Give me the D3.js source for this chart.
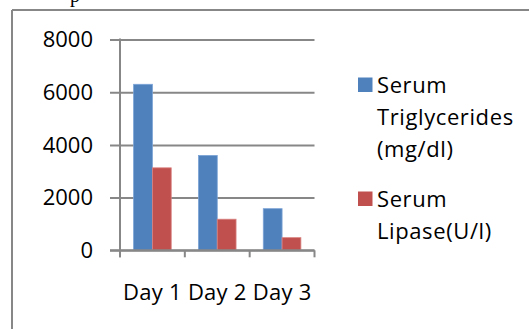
<!DOCTYPE html>
<html><head><meta charset="utf-8">
<script src="https://cdn.jsdelivr.net/npm/d3@7"></script>
<style>
html,body{margin:0;padding:0;background:#fff;}
svg{display:block;}
text{font-family:"Open Sans", sans-serif;fill:#000;}
</style></head>
<body>
<svg id="c" width="529" height="329"></svg>
<script>
const categories = ["Day 1", "Day 2", "Day 3"];
const seriesNames = ["Serum Triglycerides (mg/dl)", "Serum Lipase(U/l)"];
const triglycerides = [6300, 3600, 1580];
const lipase = [3130, 1180, 480];
const yTicks = [0, 2000, 4000, 6000, 8000];
const legendLines = [["Serum", "Triglycerides", "(mg/dl)"], ["Serum", "Lipase(U/l)"]];
const colors = ["#4F81BD", "#C0504D"];

const svg = d3.select("#c");
const gray = "#878787";
const fs = "22px";

// outer frame
svg.append("line").attr("x1", 12).attr("x2", 529).attr("y1", 10).attr("y2", 10).attr("stroke", gray).attr("stroke-width", 2);
svg.append("line").attr("x1", 12).attr("x2", 12).attr("y1", 10).attr("y2", 329).attr("stroke", gray).attr("stroke-width", 2);
// fragment of text above the frame
svg.append("text").attr("x", 70).attr("y", 2).style("font-family", "'Liberation Serif', serif").style("font-size", "20px").text("p");

const x0 = 120, x1 = 314.5, yTop = 39.5, yBot = 250.3;
const x = d3.scaleBand().domain(categories).range([x0, x1]).paddingInner(0.42).paddingOuter(0.21);
const xs = d3.scaleBand().domain(d3.range(2)).range([0, x.bandwidth()]);
const y = d3.scaleLinear().domain([0, 8000]).range([yBot, yTop]);

// gridlines + y axis
const ya = svg.append("g").attr("transform", `translate(${x0},0)`)
  .call(d3.axisLeft(y).tickValues(yTicks).tickSize(10).tickPadding(17).tickFormat(d3.format("d")));
ya.select(".domain").remove();
ya.selectAll(".tick line").attr("stroke", gray).attr("stroke-width", 2).attr("x1", -10).attr("x2", x1 - x0);
ya.selectAll(".tick text").style("font-size", fs).style("font-family", "'Open Sans', sans-serif").attr("dy", "0.33em");

svg.append("line").attr("x1", x0).attr("x2", x0).attr("y1", yTop - 1).attr("y2", yBot + 7).attr("stroke", gray).attr("stroke-width", 2);

// bars
const data = categories.map((c, i) => ({c, v: [triglycerides[i], lipase[i]]}));
const g = svg.append("g");
data.forEach(d => {
  d.v.forEach((v, j) => {
    g.append("rect").attr("x", x(d.c) + xs(j)).attr("width", xs.bandwidth())
      .attr("y", y(v)).attr("height", yBot - y(v)).attr("fill", colors[j])
      .attr("stroke", j === 0 ? "#7aa3d6" : "#d98280").attr("stroke-width", 0.8);
  });
});

// x axis
const xa = svg.append("g").attr("transform", `translate(0,${yBot})`)
  .call(d3.axisBottom(x).tickSize(0).tickPadding(34));
xa.select(".domain").remove();
xa.selectAll(".tick text").style("font-size", fs).style("font-family", "'Open Sans', sans-serif").style("letter-spacing", "0.25px");
svg.append("line").attr("x1", x0 - 10).attr("x2", x1).attr("y1", yBot).attr("y2", yBot).attr("stroke", gray).attr("stroke-width", 2);
const bounds = [x0, ...categories.map(c => x(c) + x.bandwidth() + x.step() * x.paddingInner() / 2)];
bounds[3] = x1;
svg.append("g").selectAll("line").data(bounds).join("line")
  .attr("x1", d => d).attr("x2", d => d).attr("y1", yBot).attr("y2", yBot + 7)
  .attr("stroke", gray).attr("stroke-width", 2);

// legend
const lg = svg.append("g");
const legendY = [77.5, 191.5];
legendLines.forEach((lines, i) => {
  lg.append("rect").attr("x", 358).attr("y", legendY[i]).attr("width", 14.5).attr("height", 14.5).attr("fill", colors[i]);
  lines.forEach((t, k) => {
    lg.append("text").attr("x", 377).attr("y", legendY[i] + 15 + k * 32.3)
      .style("font-size", fs).style("letter-spacing", "0.6px").text(t);
  });
});
</script>
</body></html>
